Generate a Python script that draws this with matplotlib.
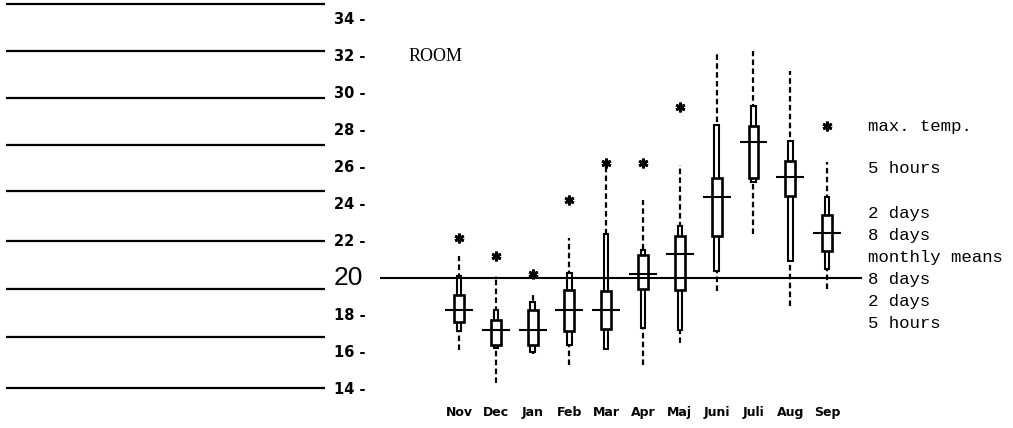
import numpy as np
import matplotlib.pyplot as plt

# ROOM temperature, monthly ranges (deg C)
months = ['Nov', 'Dec', 'Jan', 'Feb', 'Mar', 'Apr', 'Maj', 'Juni', 'Juli', 'Aug', 'Sep']
max_temp = [22.15, 21.2, 20.2, 24.2, 26.2, 26.2, 29.25, np.nan, np.nan, np.nan, 28.2]
h5_hi = [21.2, 20.1, 19.2, 22.15, 26.0, 24.2, 26.1, 32.25, 32.25, 31.2, 26.3]
h5_lo = [16.1, 14.35, 15.9, 15.3, 16.1, 15.3, 16.5, 19.3, 22.4, 18.5, 19.4]
d2_hi = [20.1, 18.3, 18.7, 20.3, 22.4, 21.5, 22.8, 28.3, 29.3, 27.4, 24.4]
d2_lo = [17.15, 16.25, 16.0, 16.4, 16.15, 17.3, 17.2, 20.4, 25.2, 20.9, 20.5]
d8_hi = [19.1, 17.75, 18.25, 19.35, 19.3, 21.25, 22.25, 25.4, 28.2, 26.35, 23.4]
d8_lo = [17.65, 16.4, 16.4, 17.15, 17.25, 19.4, 19.35, 22.3, 25.4, 24.45, 21.45]
means = [18.25, 17.2, 17.2, 18.3, 18.3, 20.2, 21.3, 24.4, 27.35, 25.45, 22.45]

y_ticks = [34, 32, 30, 28, 26, 24, 22, 20, 18, 16, 14]
# old ruled lines left over on the scanned page
left_rules = [34.8, 32.27, 29.73, 27.19, 24.7, 22.0, 19.41, 16.81, 14.05]

legend_lines = ['max. temp.', '5 hours', '', '2 days', '8 days', 'monthly means',
                '8 days', '2 days', '5 hours']
legend_y = [28.2, 25.9, 24.7, 23.5, 22.3, 21.1, 19.9, 18.75, 17.55]

fig = plt.figure(figsize=(10.13, 4.28), dpi=100)
ax = fig.add_axes([0, 0, 1, 1])
ax.set_xlim(-12.47, 15.05)
ax.set_ylim(11.9, 35.03)
ax.set_axis_off()

x = np.arange(len(months))

# ruled lines on the left
ax.hlines(left_rules, -12.3, -3.65, color='black', lw=1.6)

# y labels
for t in y_ticks:
    if t == 20:
        ax.text(-2.6, t, '20', ha='right', va='center', fontsize=19,
                family='Liberation Sans')
    else:
        ax.text(-2.55, t, f'{t} -', ha='right', va='center', fontsize=10.5,
                fontweight='bold', family='DejaVu Sans')

# 20 degree reference line
ax.hlines(20, -2.15, 10.95, color='black', lw=1.5, zorder=5)

# 5 hour ranges (dashed)
ax.vlines(x, h5_lo, h5_hi, color='black', lw=1.6, linestyles=(0, (2.5, 1.5)), zorder=1)
# 2 day ranges (narrow bar)
ax.bar(x, np.array(d2_hi) - np.array(d2_lo), bottom=d2_lo, width=0.12,
       facecolor='white', edgecolor='black', lw=1.5, zorder=2)
# 8 day ranges (box)
ax.bar(x, np.array(d8_hi) - np.array(d8_lo), bottom=d8_lo, width=0.27,
       facecolor='white', edgecolor='black', lw=1.9, zorder=3)
# monthly means
ax.hlines(means, x - 0.38, x + 0.38, color='black', lw=1.5, zorder=4)
# max temperatures
ax.plot(x, max_temp, ls='none', marker=(6, 2, 0), ms=7, mew=2.0, color='black')

ax.text(-1.38, 32.0, 'ROOM', fontsize=13, family='Liberation Serif', va='center')

for i, m in enumerate(months):
    ax.text(x[i], 12.75, m, ha='center', va='center', fontsize=9,
            fontweight='bold', family='DejaVu Sans')

for s, yy in zip(legend_lines, legend_y):
    ax.text(11.1, yy, s, ha='left', va='center', fontsize=12.5,
            family='Liberation Mono')

fig.savefig('out.png', dpi=100)
